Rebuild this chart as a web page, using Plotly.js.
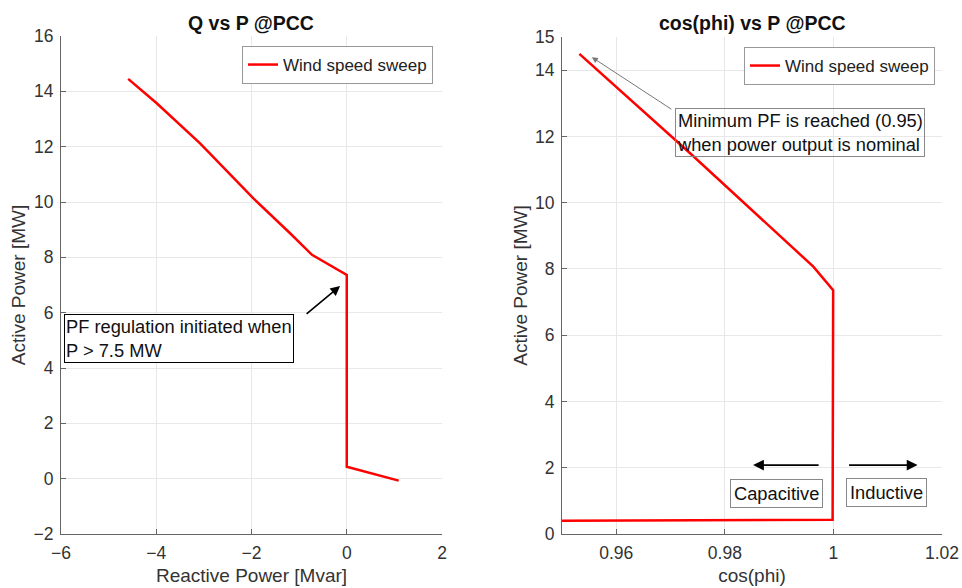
<!DOCTYPE html>
<html>
<head>
<meta charset="utf-8">
<script src="https://cdn.plot.ly/plotly-3.0.1.min.js"></script>
<style>html,body{margin:0;padding:0;background:#fff;}#chart{width:962px;height:588px;}</style>
</head>
<body>
<div id="chart"></div>
<script>
// Left panel: Q vs P
const reactivePower = [-4.59, -3.99, -3.08, -1.96, -1.19, -0.73, 0.00, 0.00, 1.09];
const activePowerQ  = [14.45, 13.57, 12.12, 10.13, 8.87, 8.09, 7.36, 0.43, -0.07];
// Right panel: cos(phi) vs P
const cosPhi        = [0.9532, 0.9736, 0.9963, 0.99995, 0.99985, 0.95, 0.90];
const activePowerC  = [14.49, 11.49, 8.07, 7.36, 0.43, 0.40, 0.37];

const seriesName = 'Wind speed sweep';
const leftXTicks = [-6, -4, -2, 0, 2];
const leftYTicks = [-2, 0, 2, 4, 6, 8, 10, 12, 14, 16];
const rightXTicks = [0.96, 0.98, 1.00, 1.02];
const rightXTickText = ['0.96', '0.98', '1', '1.02'];
const rightYTicks = [0, 2, 4, 6, 8, 10, 12, 14, 15];

const FONT = 'Liberation Sans, Arial, Helvetica, sans-serif';
const W = 962, H = 588;
const px = v => v / W;
const py = v => 1 - v / H;

const axisBase = {
  showline: true, linecolor: '#666', linewidth: 1, mirror: false,
  ticks: 'inside', ticklen: 5, tickcolor: '#666',
  showgrid: true, gridcolor: '#e8e8e8', gridwidth: 1,
  zeroline: false, automargin: false,
  tickfont: {family: FONT, size: 17.5, color: '#333'},
  ticklabelstandoff: 3
};
const titleFont = {family: FONT, size: 19, color: '#333'};

const traces = [
  {x: reactivePower, y: activePowerQ, type: 'scatter', mode: 'lines', name: seriesName,
   line: {color: '#ff0000', width: 2.5}, xaxis: 'x', yaxis: 'y', legend: 'legend'},
  {x: cosPhi, y: activePowerC, type: 'scatter', mode: 'lines', name: seriesName,
   line: {color: '#ff0000', width: 2.5}, xaxis: 'x2', yaxis: 'y2', legend: 'legend2'}
];

const legendBase = {
  xanchor: 'right', yanchor: 'top', bgcolor: '#fff',
  bordercolor: '#999', borderwidth: 1,
  font: {family: FONT, size: 17, color: '#222'}, itemwidth: 30
};

const annFont = {family: FONT, size: 18.3, color: '#111'};

const layout = {
  width: W, height: H,
  margin: {l: 0, r: 0, t: 0, b: 0},
  paper_bgcolor: '#fff', plot_bgcolor: '#fff',
  font: {family: FONT},
  showlegend: true,
  xaxis: Object.assign({}, axisBase, {
    domain: [px(61), px(442)], range: [-6, 2], tickvals: leftXTicks, anchor: 'y',
    title: {text: 'Reactive Power [Mvar]', font: titleFont, standoff: 6}
  }),
  yaxis: Object.assign({}, axisBase, {
    domain: [py(534), py(36)], range: [-2, 16], tickvals: leftYTicks, anchor: 'x',
    title: {text: 'Active Power [MW]', font: titleFont, standoff: 2}
  }),
  xaxis2: Object.assign({}, axisBase, {
    domain: [px(562), px(942)], range: [0.95, 1.02], tickvals: rightXTicks, ticktext: rightXTickText, anchor: 'y2',
    title: {text: 'cos(phi)', font: titleFont, standoff: 6}
  }),
  yaxis2: Object.assign({}, axisBase, {
    domain: [py(534), py(37)], range: [0, 15], tickvals: rightYTicks, anchor: 'x2',
    title: {text: 'Active Power [MW]', font: titleFont, standoff: 2}
  }),
  legend: Object.assign({}, legendBase, {x: px(433), y: py(46)}),
  legend2: Object.assign({}, legendBase, {x: px(935), y: py(47)}),
  annotations: [
    {text: '<b>Q vs P @PCC</b>', xref: 'paper', yref: 'paper', x: px(251.5), y: py(23),
     xanchor: 'center', yanchor: 'middle', showarrow: false, font: {family: FONT, size: 19.5, color: '#111'}},
    {text: '<b>cos(phi) vs P @PCC</b>', xref: 'paper', yref: 'paper', x: px(752), y: py(23),
     xanchor: 'center', yanchor: 'middle', showarrow: false, font: {family: FONT, size: 19.5, color: '#111'}},
    // left callout arrow
    {text: '', xref: 'x', yref: 'y', x: -0.14, y: 6.96, ax: -35, ay: 29, showarrow: true,
     arrowhead: 2, arrowsize: 1.2, arrowwidth: 1.6, arrowcolor: '#000'},
    {text: 'PF regulation initiated when<br>P > 7.5 MW', xref: 'paper', yref: 'paper',
     x: px(64), y: py(314), xanchor: 'left', yanchor: 'top', align: 'left', showarrow: false,
     bordercolor: '#000', borderwidth: 1, borderpad: 1, bgcolor: '#fff', font: annFont},
    // right callout arrow
    {text: '', xref: 'x2', yref: 'y2', x: 0.9555, y: 14.39, ax: 81, ay: 53, showarrow: true,
     arrowhead: 2, arrowsize: 1.2, arrowwidth: 1, arrowcolor: '#777'},
    {text: 'Minimum PF is reached (0.95)<br>when power output is nominal', xref: 'paper', yref: 'paper',
     x: px(675), y: py(108), xanchor: 'left', yanchor: 'top', align: 'left', showarrow: false,
     bordercolor: '#888', borderwidth: 1, borderpad: 1, font: annFont},
    // capacitive / inductive arrows
    {text: '', xref: 'x2', yref: 'y2', x: 0.9852, y: 2.08, ax: 67, ay: 0, showarrow: true,
     arrowhead: 2, arrowsize: 1.2, arrowwidth: 1.8, arrowcolor: '#000'},
    {text: '', xref: 'x2', yref: 'y2', x: 1.0155, y: 2.08, ax: -70, ay: 0, showarrow: true,
     arrowhead: 2, arrowsize: 1.2, arrowwidth: 1.8, arrowcolor: '#000'},
    {text: 'Capacitive', xref: 'paper', yref: 'paper', x: px(776), y: py(493.5),
     xanchor: 'center', yanchor: 'middle', showarrow: false,
     bordercolor: '#888', borderwidth: 1, borderpad: 3, bgcolor: '#fff', font: annFont},
    {text: 'Inductive', xref: 'paper', yref: 'paper', x: px(886), y: py(492),
     xanchor: 'center', yanchor: 'middle', showarrow: false,
     bordercolor: '#888', borderwidth: 1, borderpad: 3, bgcolor: '#fff', font: annFont}
  ]
};

Plotly.newPlot('chart', traces, layout, {staticPlot: true, displayModeBar: false});
</script>
</body>
</html>
